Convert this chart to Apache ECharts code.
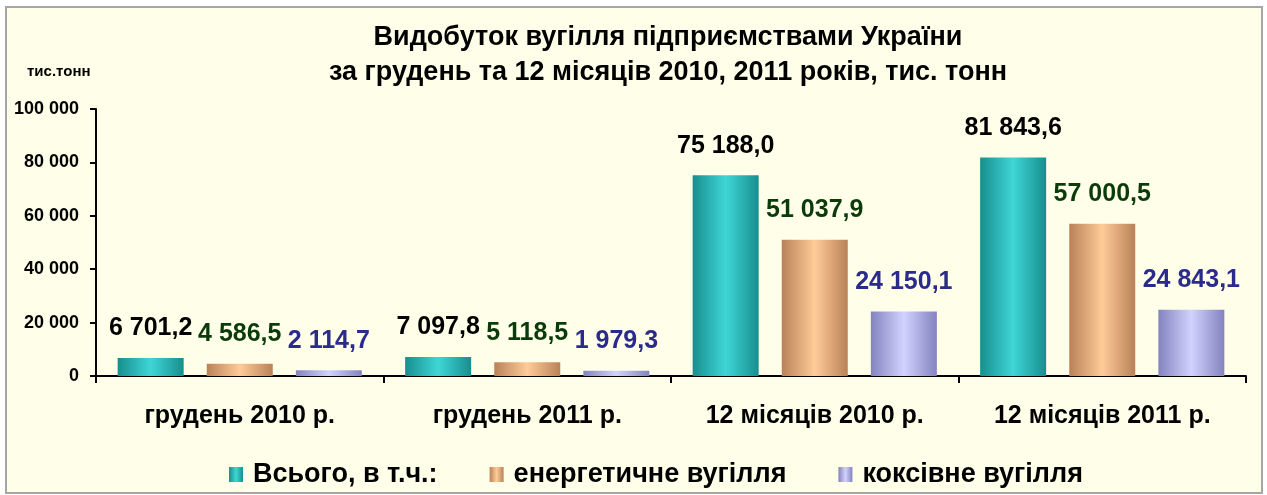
<!DOCTYPE html>
<html>
<head>
<meta charset="utf-8">
<script src="https://cdn.jsdelivr.net/npm/echarts@6/dist/echarts.min.js"></script>
<style>
  html, body { margin: 0; padding: 0; background: #fff; }
  #chart { width: 1267px; height: 495px; }
</style>
</head>
<body>
<div id="chart"></div>
<script>
const categories = ['грудень 2010 р.', 'грудень 2011 р.', '12 місяців 2010 р.', '12 місяців 2011 р.'];
const seriesNames = ['Всього, в т.ч.:', 'енергетичне вугілля', 'коксівне вугілля'];
const totalValues = [6701.2, 7097.8, 75188.0, 81843.6];
const energyValues = [4586.5, 5118.5, 51037.9, 57000.5];
const cokingValues = [2114.7, 1979.3, 24150.1, 24843.1];

const FONT = '"Liberation Sans", Arial, sans-serif';

function fmtThousands(n) {
  return String(n).replace(/\B(?=(\d{3})+(?!\d))/g, ' ');
}
function fmtValue(v) {
  const parts = v.toFixed(1).split('.');
  return fmtThousands(parts[0]) + ',' + parts[1];
}
function cylinder(edge, mid) {
  return new echarts.graphic.LinearGradient(0, 0, 1, 0, [
    { offset: 0, color: edge },
    { offset: 0.5, color: mid },
    { offset: 1, color: edge }
  ]);
}

const chart = echarts.init(document.getElementById('chart'));

function makeSeries(name, data, edge, mid, labelColor) {
  return {
    name: name,
    type: 'bar',
    data: data,
    barWidth: 66,
    barGap: '35%',
    itemStyle: { color: cylinder(edge, mid) },
    label: {
      show: true,
      position: 'top',
      distance: 17,
      formatter: p => fmtValue(p.value),
      color: labelColor,
      fontFamily: FONT,
      fontWeight: 'bold',
      fontSize: 25
    }
  };
}

chart.setOption({
  backgroundColor: '#ffffff',
  animation: false,
  graphic: [
    {
      type: 'rect',
      z: -10,
      shape: { x: 6, y: 7, width: 1256, height: 486 },
      style: { fill: '#FFFFE9', stroke: '#a6a6a6', lineWidth: 2 }
    },
    {
      type: 'text',
      left: 27,
      top: 64,
      style: { text: 'тис.тонн', font: 'bold 15px ' + FONT, fill: '#000' }
    }
  ],
  title: {
    text: 'Видобуток вугілля підприємствами України\nза грудень та 12 місяців 2010, 2011 років, тис. тонн',
    left: 663,
    top: 15,
    textAlign: 'center',
    textStyle: {
      fontFamily: FONT,
      fontWeight: 'bold',
      fontSize: 27,
      lineHeight: 35,
      color: '#000'
    }
  },
  legend: {
    data: seriesNames,
    icon: 'rect',
    left: 224,
    top: 456,
    itemWidth: 14,
    itemHeight: 15,
    itemGap: 52,
    textStyle: {
      fontFamily: FONT,
      fontWeight: 'bold',
      fontSize: 27,
      color: '#000',
      padding: [0, 0, 0, 5]
    }
  },
  grid: { left: 96, right: 21, top: 109, bottom: 119, containLabel: false },
  xAxis: {
    type: 'category',
    data: categories,
    axisLine: { lineStyle: { color: '#000', width: 2 } },
    axisTick: { show: true, length: 7, lineStyle: { color: '#000', width: 2 } },
    axisLabel: {
      margin: 28,
      fontFamily: FONT,
      fontWeight: 'bold',
      fontSize: 25,
      color: '#000'
    }
  },
  yAxis: {
    type: 'value',
    min: 0,
    max: 100000,
    interval: 20000,
    splitLine: { show: false },
    axisLine: { show: true, lineStyle: { color: '#000', width: 2 } },
    axisTick: { show: true, length: 6, lineStyle: { color: '#000', width: 2 } },
    axisLabel: {
      margin: 17,
      formatter: v => fmtThousands(v),
      fontFamily: FONT,
      fontWeight: 'bold',
      fontSize: 18,
      color: '#000'
    }
  },
  series: [
    makeSeries(seriesNames[0], totalValues, '#178e8e', '#3fd6d6', '#000000'),
    makeSeries(seriesNames[1], energyValues, '#b98257', '#ffcb98', '#0b3b0b'),
    makeSeries(seriesNames[2], cokingValues, '#8383bf', '#d2d2ff', '#2b2b8c')
  ]
});
</script>
</body>
</html>
